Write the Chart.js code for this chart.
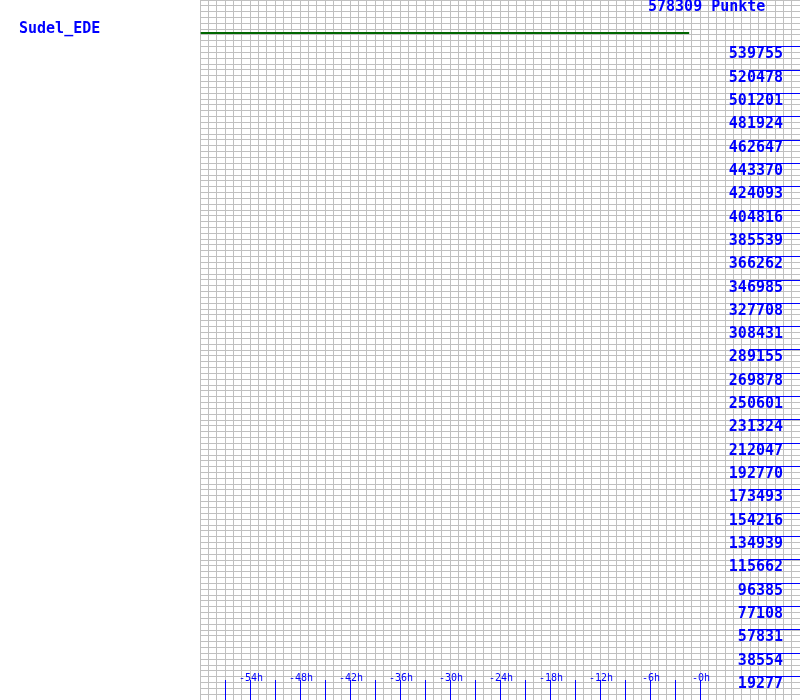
<!DOCTYPE html>
<html>
<head>
<meta charset="utf-8">
<script src="https://cdn.jsdelivr.net/npm/chart.js@4/dist/chart.umd.min.js"></script>
<style>
  html, body { margin: 0; padding: 0; background: #ffffff; }
  canvas { display: block; }
</style>
</head>
<body>
<canvas id="c" width="800" height="700"></canvas>
<script>
// ---- data ----
const playerName = 'Sudel_EDE';
const maxPoints = 578309;
const titleText = '578309 Punkte';

const hours  = [-59.8, -58.8, -1.3];
const points = [550220, 551050, 551050];

const yTickValues = [19277, 38554, 57831, 77108, 96385, 115662, 134939, 154216, 173493, 192770,
  212047, 231324, 250601, 269878, 289155, 308431, 327708, 346985, 366262, 385539,
  404816, 424093, 443370, 462647, 481924, 501201, 520478, 539755];

const xMarkHours  = [-57, -54, -51, -48, -45, -42, -39, -36, -33, -30, -27, -24, -21, -18, -15, -12, -9, -6, -3, 0];
const xLabelHours = [-54, -48, -42, -36, -30, -24, -18, -12, -6, 0];
const xLabels     = ['-54h', '-48h', '-42h', '-36h', '-30h', '-24h', '-18h', '-12h', '-6h', '-0h'];

const BLUE = '#0000ff';
const BIG = 'bold 15px "DejaVu Sans Mono", monospace';
const SMALL = '10px "DejaVu Sans Mono", monospace';

const labelsPlugin = {
  id: 'labelsPlugin',
  afterDraw(chart) {
    const ctx = chart.ctx;
    const xs = chart.scales.x, ys = chart.scales.y;
    ctx.save();
    ctx.globalAlpha = 1;
    ctx.fillStyle = BLUE;

    // right side value ticks and labels
    ctx.font = BIG;
    ctx.textAlign = 'right';
    ctx.textBaseline = 'alphabetic';
    yTickValues.forEach(v => {
      const py = Math.floor(ys.getPixelForValue(v));
      ctx.fillRect(749, py, 51, 1);
      ctx.fillText(String(v), 783, py + 12);
    });

    // bottom hour marks
    xMarkHours.forEach(h => {
      const px = Math.floor(xs.getPixelForValue(h));
      ctx.fillRect(px, 680, 1, 20);
    });
    ctx.font = SMALL;
    ctx.textAlign = 'center';
    xLabelHours.forEach((h, i) => {
      const px = xs.getPixelForValue(h);
      ctx.fillText(xLabels[i], px + 1, 681);
    });

    // titles
    ctx.font = BIG;
    ctx.textAlign = 'left';
    ctx.fillText(titleText, 648, 11);
    ctx.fillText(playerName, 19, 33);
    ctx.restore();
  }
};

new Chart(document.getElementById('c'), {
  type: 'line',
  data: {
    datasets: [{
      data: hours.map((h, i) => ({ x: h, y: points[i] })),
      borderColor: '#006600',
      borderWidth: 2,
      pointRadius: 0,
      stepped: 'after',
      fill: false
    }]
  },
  options: {
    responsive: false,
    animation: false,
    events: [],
    layout: { padding: { left: 200, right: 0, top: 0, bottom: 0 } },
    plugins: { legend: { display: false }, tooltip: { enabled: false }, title: { display: false } },
    scales: {
      x: {
        type: 'linear',
        min: -60, max: 12,
        ticks: { display: false, stepSize: 1, autoSkip: false },
        grid: { color: '#c0c0c0', lineWidth: 1, drawTicks: false },
        border: { display: false },
        afterFit: s => { s.height = 0; }
      },
      y: {
        type: 'linear',
        min: 0, max: maxPoints,
        ticks: { display: false, stepSize: maxPoints / 120, autoSkip: false },
        grid: { color: '#c0c0c0', lineWidth: 1, drawTicks: false },
        border: { display: false },
        afterFit: s => { s.width = 0; }
      }
    }
  },
  plugins: [labelsPlugin]
});
</script>
</body>
</html>
